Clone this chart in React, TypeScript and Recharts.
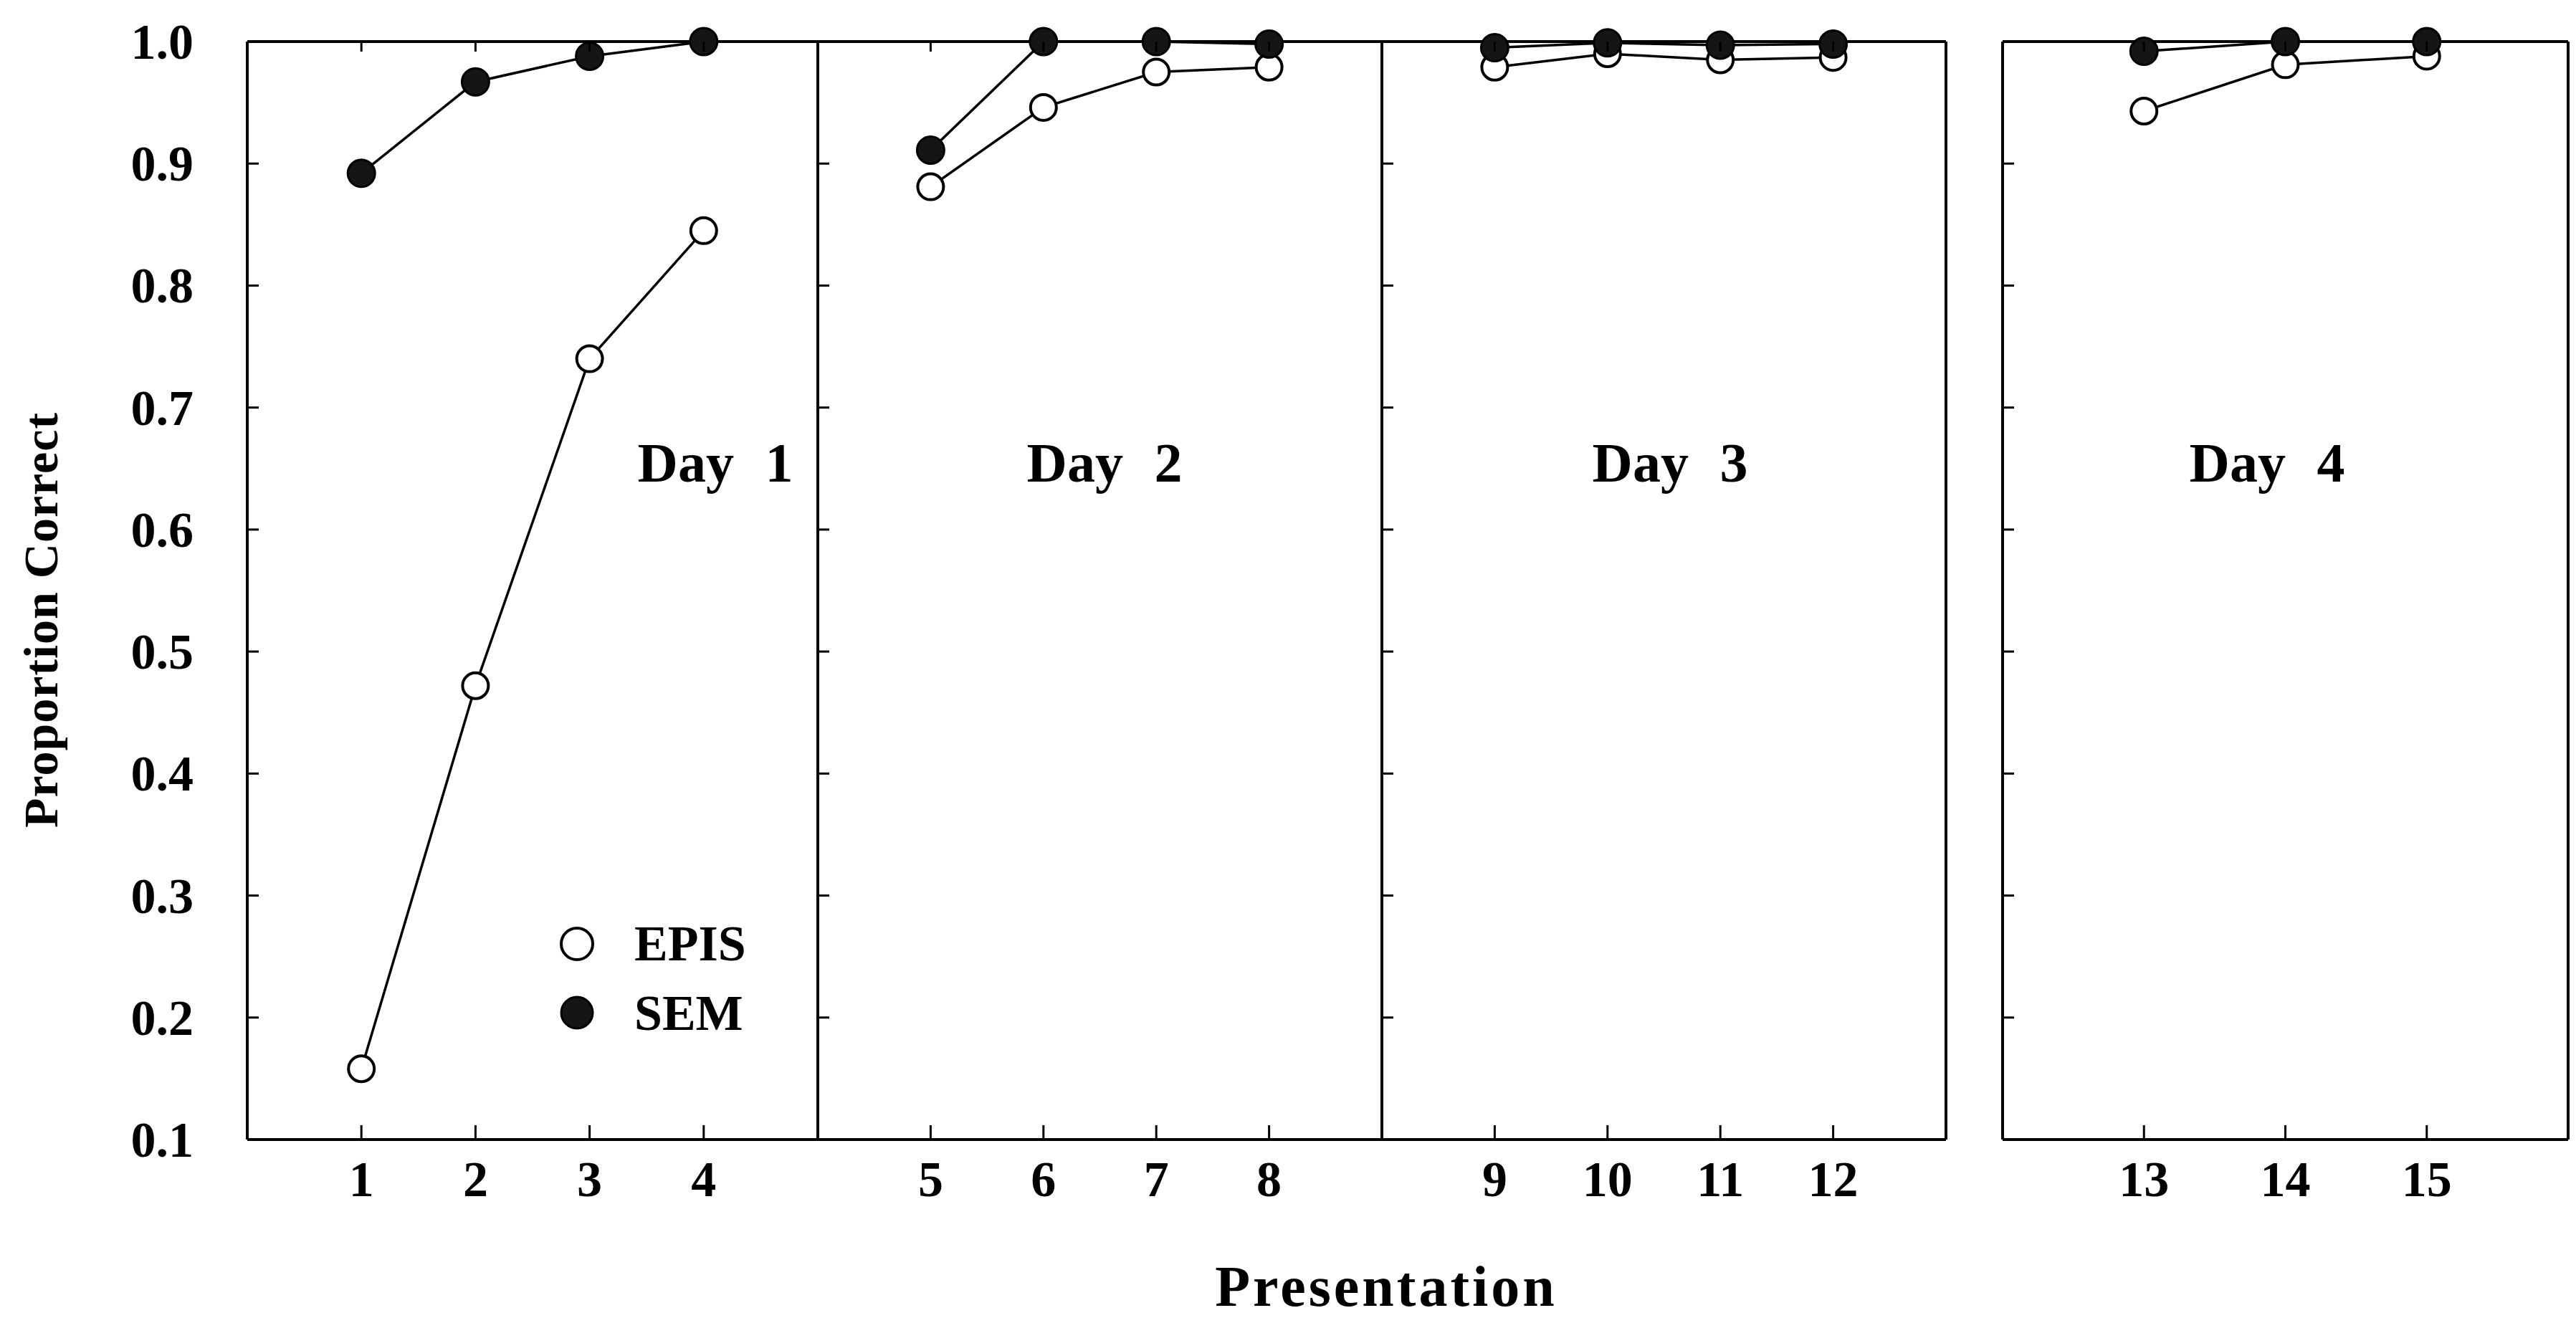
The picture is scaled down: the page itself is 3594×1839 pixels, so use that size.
import React from 'react';
import { LineChart, Line, XAxis, YAxis } from 'recharts';

// values
const presentations = [1, 2, 3, 4, 5, 6, 7, 8, 9, 10, 11, 12, 13, 14, 15];
const episCorrect = [0.158, 0.472, 0.74, 0.845, 0.881, 0.946, 0.975, 0.979, 0.979, 0.99, 0.985, 0.987, 0.943, 0.981, 0.988];
const semCorrect = [0.892, 0.967, 0.988, 1.0, 0.911, 1.0, 1.0, 0.998, 0.995, 0.999, 0.997, 0.998, 0.992, 1.0, 1.0];

const dayNames = ['Day 1', 'Day 2', 'Day 3', 'Day 4'];
const dayPresentations = [[1, 2, 3, 4], [5, 6, 7, 8], [9, 10, 11, 12], [13, 14, 15]];
const dayDomains: [number, number][] = [[0, 5], [4, 9], [8, 13], [12, 16]];
const yTicks = [0.1, 0.2, 0.3, 0.4, 0.5, 0.6, 0.7, 0.8, 0.9, 1.0];

const seriesNames = ['EPIS', 'SEM'];

// layout, px
const PLOT_TOP = 58;
const PLOT_BOTTOM = 1590;
const panelEdges: [number, number][] = [[345, 1141], [1141, 1928], [1928, 2715], [2794, 3583]];
const dayLabelX = [998, 1541, 2330, 3163];
const X_AXIS_H = 130;
const PAD = 29;

const FONT = "'Liberation Serif', 'DejaVu Serif', serif";
const tickText = { fontFamily: FONT, fontSize: 70, fontWeight: 700, fill: '#000' };
const axisLine = { stroke: '#000', strokeWidth: 4 };
const TICK_W = 3;

const episDot = { r: 18, fill: '#fff', stroke: '#000', strokeWidth: 4 };
const semDot = { r: 19, fill: '#151515', stroke: '#000', strokeWidth: 3 };

// inward tick marks, drawn by hand so they point into the box
function bottomTick(showLabel: boolean) {
  return (p: any) => (
    <g>
      <line x1={p.x} x2={p.x} y1={p.y} y2={p.y - 20} stroke="#000" strokeWidth={TICK_W} />
      {showLabel && (
        <text x={p.x} y={p.y + 79} textAnchor="middle" {...tickText}>
          {p.payload.value}
        </text>
      )}
    </g>
  );
}

function topTick(p: any) {
  return <line x1={p.x} x2={p.x} y1={p.y} y2={p.y + 14} stroke="#000" strokeWidth={TICK_W} />;
}

function leftTick(showLabel: boolean) {
  return (p: any) => (
    <g>
      <line x1={p.x} x2={p.x + 16} y1={p.y} y2={p.y} stroke="#000" strokeWidth={TICK_W} />
      {showLabel && (
        <text x={p.x - 75} y={p.y + 24} textAnchor="end" {...tickText}>
          {Number(p.payload.value).toFixed(1)}
        </text>
      )}
    </g>
  );
}

function rightTick(p: any) {
  return <line x1={p.x} x2={p.x - 16} y1={p.y} y2={p.y} stroke="#000" strokeWidth={TICK_W} />;
}

function DayPanel({ index }: { index: number }) {
  const [left, right] = panelEdges[index];
  const first = index === 0;
  const yAxisWidth = first ? 330 : 1;
  const margin = { top: first ? 50 : PAD, right: PAD, bottom: 0, left: first ? 15 : PAD };
  const chartLeft = left - margin.left - yAxisWidth;
  const chartTop = PLOT_TOP - margin.top - 1;
  const width = margin.left + yAxisWidth + (right - left) + 1 + margin.right;
  const height = margin.top + 1 + (PLOT_BOTTOM - PLOT_TOP) + X_AXIS_H;

  const data = dayPresentations[index].map((p) => ({
    presentation: p,
    epis: episCorrect[presentations.indexOf(p)],
    sem: semCorrect[presentations.indexOf(p)],
  }));

  return (
    <div style={{ position: 'absolute', left: chartLeft, top: chartTop }}>
      <LineChart width={width} height={height} data={data} margin={margin}>
        <XAxis
          dataKey="presentation"
          type="number"
          domain={dayDomains[index]}
          ticks={dayPresentations[index]}
          interval={0}
          height={X_AXIS_H}
          axisLine={axisLine}
          tickLine={false}
          tickSize={0}
          tickMargin={0}
          tick={bottomTick(true)}
        />
        <XAxis
          xAxisId="top"
          orientation="top"
          dataKey="presentation"
          type="number"
          domain={dayDomains[index]}
          ticks={dayPresentations[index]}
          interval={0}
          height={1}
          axisLine={axisLine}
          tickLine={false}
          tickSize={0}
          tickMargin={0}
          tick={topTick}
        />
        <YAxis
          type="number"
          domain={[0.1, 1.0]}
          ticks={yTicks}
          interval={0}
          width={yAxisWidth}
          axisLine={axisLine}
          tickLine={false}
          tickSize={0}
          tickMargin={0}
          tick={leftTick(first)}
        />
        <YAxis
          yAxisId="right"
          orientation="right"
          type="number"
          domain={[0.1, 1.0]}
          ticks={yTicks}
          interval={0}
          width={1}
          axisLine={axisLine}
          tickLine={false}
          tickSize={0}
          tickMargin={0}
          tick={rightTick}
        />
        <Line
          type="linear"
          dataKey="epis"
          name={seriesNames[0]}
          stroke="#000"
          strokeWidth={3.5}
          dot={episDot}
          activeDot={false}
          isAnimationActive={false}
        />
        <Line
          type="linear"
          dataKey="sem"
          name={seriesNames[1]}
          stroke="#000"
          strokeWidth={3.5}
          dot={semDot}
          activeDot={false}
          isAnimationActive={false}
        />
      </LineChart>
    </div>
  );
}

function Annotations() {
  const text = { fontFamily: FONT, fontWeight: 700, fill: '#000' };
  return (
    <svg
      width={3594}
      height={1839}
      style={{ position: 'absolute', left: 0, top: 0, pointerEvents: 'none' }}
    >
      {dayNames.map((d, i) => (
        <text key={d} x={dayLabelX[i]} y={672} textAnchor="middle" fontSize={78} wordSpacing={24} {...text}>
          {d}
        </text>
      ))}
      <text x={1934} y={1822} textAnchor="middle" fontSize={80} letterSpacing={4} {...text}>
        Presentation
      </text>
      <text
        x={80}
        y={865}
        textAnchor="middle"
        fontSize={68}
        letterSpacing={1}
        transform="rotate(-90 80 865)"
        {...text}
      >
        Proportion Correct
      </text>
      {/* legend */}
      <circle cx={805} cy={1317} r={22} fill="#fff" stroke="#000" strokeWidth={4} />
      <text x={885} y={1340} fontSize={70} {...text}>{seriesNames[0]}</text>
      <circle cx={805} cy={1413} r={22} fill="#151515" stroke="#000" strokeWidth={3} />
      <text x={885} y={1437} fontSize={70} {...text}>{seriesNames[1]}</text>
    </svg>
  );
}

export default function App() {
  return (
    <div style={{ position: 'absolute', left: 0, top: 0, width: 3594, height: 1839, background: '#fff', overflow: 'hidden' }}>
      {dayNames.map((d, i) => (
        <DayPanel key={d} index={i} />
      ))}
      <Annotations />
    </div>
  );
}
